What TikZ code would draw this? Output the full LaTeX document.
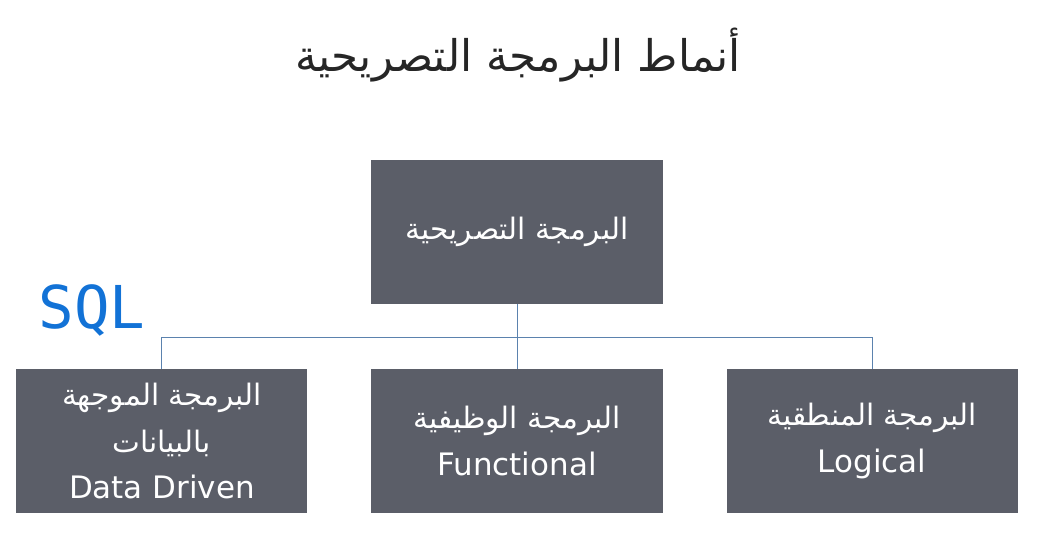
\documentclass[tikz,border=0pt]{standalone}
\usepackage{fontspec}
\setmainfont{DejaVu Sans}
\newfontfamily\arabicfont[Script=Arabic]{DejaVu Sans}
\newfontfamily\penfont{DejaVu Sans Mono}
\TeXXeTstate=1
\usetikzlibrary{trees}

\definecolor{boxgray}{HTML}{5B5E68}
\definecolor{linkblue}{HTML}{5B82AE}
\definecolor{penblue}{HTML}{1272D6}
\newcommand{\artext}[1]{{\arabicfont\beginR #1\endR}}
\newcommand{\latext}[1]{{\fontsize{22}{32}\selectfont #1}}

\begin{document}
\begin{tikzpicture}[x=0.025cm, y=0.025cm,
      level distance=5.225cm, sibling distance=8.875cm,
      pbox/.style = {shape=rectangle, fill=boxgray, text=white,
        align=center, inner sep=0pt,
        minimum width=7.275cm, minimum height=3.6cm,
        font=\fontsize{21}{33}\selectfont},
      every child node/.style = {pbox},
      edge from parent/.style = {draw, linkblue, line width=0.7pt},
      edge from parent path = {(\tikzparentnode.south) -- +(0,-0.82cm)
        -| (\tikzchildnode.north)}]
  \useasboundingbox (0,0) rectangle (1047,541);
  \node[font=\fontsize{31}{40}\selectfont, text=black!85] (title) at (518,486)
    {\artext{أنماط البرمجة التصريحية}};
  \node[font=\penfont\fontsize{42}{44}\selectfont, text=penblue] (sql) at (92,231) {SQL};
  \node[pbox] (decl) at (517,309) {\artext{البرمجة التصريحية}}
    child { node (data) {\artext{البرمجة الموجهة}\\ \artext{بالبيانات}\\ \latext{Data Driven}} }
    child { node (func) {\artext{البرمجة الوظيفية}\\ \latext{Functional}} }
    child { node (logic) {\artext{البرمجة المنطقية}\\ \latext{Logical}} };
\end{tikzpicture}
\end{document}
